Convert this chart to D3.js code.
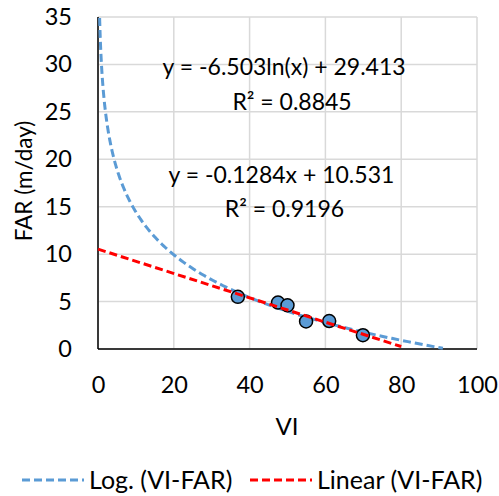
<!DOCTYPE html>
<html>
<head>
<meta charset="utf-8">
<script src="https://cdn.jsdelivr.net/npm/d3@7"></script>
<style>
  body { margin: 0; background: #fff; }
  text { font-family: "Lato", "Open Sans", sans-serif; fill: #000; }
</style>
</head>
<body>
<svg></svg>
<script>
// observed points (VI, FAR)
var viValues = [36.9, 47.5, 50.0, 54.9, 61.0, 69.9]
var farValues = [5.5, 4.9, 4.6, 2.9, 2.95, 1.45]

var xTicks = [0, 20, 40, 60, 80, 100]
var yTicks = [0, 5, 10, 15, 20, 25, 30, 35]

// trendline coefficients
var logCoef = { a: -6.503, b: 29.413 }
var linCoef = { m: -0.1284, c: 10.531 }
var logRange = [0.43, 91]
var linRange = [0, 80]

var eqLabels = [
    { text: "y = -6.503ln(x) + 29.413", x: 49.1, y: 28.9 },
    { text: "R² = 0.8845", x: 51.2, y: 25.2 },
    { text: "y = -0.1284x + 10.531", x: 48.4, y: 17.5 },
    { text: "R² = 0.9196", x: 49.2, y: 13.9 }
]

var legendItems = [
    { label: "Log. (VI-FAR)", color: "#5b9bd5" },
    { label: "Linear (VI-FAR)", color: "#ff0000" }
]

var screen = { width: 499, height: 496 }
var margins = { left: 98, right: 22, top: 17, bottom: 147 }
var graph = {
    width: screen.width - margins.left - margins.right,
    height: screen.height - margins.top - margins.bottom
}

var svg = d3.select("svg")
    .attr("width", screen.width)
    .attr("height", screen.height)

var xScale = d3.scaleLinear().domain([0, 100]).range([0, graph.width])
var yScale = d3.scaleLinear().domain([0, 35]).range([graph.height, 0])

var target = svg.append("g")
    .attr("transform", "translate(" + margins.left + "," + margins.top + ")")

// gridlines
target.append("g")
    .selectAll("line")
    .data(yTicks)
    .enter()
    .append("line")
    .attr("x1", 0)
    .attr("x2", graph.width)
    .attr("y1", function (d) { return yScale(d) })
    .attr("y2", function (d) { return yScale(d) })
    .attr("stroke", "#d9d9d9")
    .attr("stroke-width", 1.5)

target.append("g")
    .selectAll("line")
    .data(xTicks)
    .enter()
    .append("line")
    .attr("x1", function (d) { return xScale(d) })
    .attr("x2", function (d) { return xScale(d) })
    .attr("y1", 0)
    .attr("y2", graph.height)
    .attr("stroke", "#d9d9d9")
    .attr("stroke-width", 1.5)

// axes
var xAxis = d3.axisBottom(xScale).tickValues(xTicks).tickSize(0).tickPadding(27)
var yAxis = d3.axisLeft(yScale).tickValues(yTicks).tickSize(0).tickPadding(26)

var gx = target.append("g")
    .attr("transform", "translate(0," + graph.height + ")")
    .call(xAxis)
var gy = target.append("g").call(yAxis)

gx.select(".domain").remove()
gy.select(".domain").remove()
gx.selectAll("text").style("font-size", "23.5px").style("font-family", "Lato").style("fill", "#000")
gy.selectAll("text").style("font-size", "23.5px").style("font-family", "Lato").style("fill", "#000")

target.append("line")
    .attr("x1", 0).attr("x2", graph.width)
    .attr("y1", graph.height).attr("y2", graph.height)
    .attr("stroke", "#000").attr("stroke-width", 1.5)
target.append("line")
    .attr("x1", 0).attr("x2", 0)
    .attr("y1", 0).attr("y2", graph.height)
    .attr("stroke", "#000").attr("stroke-width", 1.5)

// trendlines
var logLine = d3.line()
    .x(function (v) { return xScale(v) })
    .y(function (v) { return yScale(logCoef.a * Math.log(v) + logCoef.b) })

var linLine = d3.line()
    .x(function (v) { return xScale(v) })
    .y(function (v) { return yScale(linCoef.m * v + linCoef.c) })

var logSamples = d3.range(0, 201).map(function (i) {
    var t = i / 200
    return Math.exp(Math.log(logRange[0]) + t * (Math.log(logRange[1]) - Math.log(logRange[0])))
})

target.append("path")
    .datum(logSamples)
    .attr("d", logLine)
    .attr("fill", "none")
    .attr("stroke", legendItems[0].color)
    .attr("stroke-width", 3)
    .attr("stroke-dasharray", "8,4")

// points
var points = viValues.map(function (v, i) { return { vi: v, far: farValues[i] } })

target.selectAll("circle")
    .data(points)
    .enter()
    .append("circle")
    .attr("cx", function (p) { return xScale(p.vi) })
    .attr("cy", function (p) { return yScale(p.far) })
    .attr("r", 6.5)
    .attr("fill", "#5b9bd5")
    .attr("stroke", "#000")
    .attr("stroke-width", 1.5)

target.append("path")
    .datum(linRange)
    .attr("d", linLine)
    .attr("fill", "none")
    .attr("stroke", legendItems[1].color)
    .attr("stroke-width", 3)
    .attr("stroke-dasharray", "8,4")

// equation labels
target.selectAll("text.eq")
    .data(eqLabels)
    .enter()
    .append("text")
    .classed("eq", true)
    .text(function (d) { return d.text })
    .attr("x", function (d) { return xScale(d.x) })
    .attr("y", function (d) { return yScale(d.y) })
    .attr("text-anchor", "middle")
    .style("font-size", "23px")

// axis titles
svg.append("text")
    .text("VI")
    .attr("text-anchor", "middle")
    .attr("x", 287)
    .attr("y", 435)
    .style("font-size", "24px")

svg.append("g")
    .attr("transform", "translate(32,181)")
    .append("text")
    .text("FAR (m/day)")
    .attr("text-anchor", "middle")
    .attr("transform", "rotate(-90)")
    .style("font-size", "22.5px")

// legend
var legendPos = [22, 250]
var legend = svg.append("g")
    .selectAll("g")
    .data(legendItems)
    .enter()
    .append("g")
    .attr("transform", function (d, i) { return "translate(" + legendPos[i] + ",480)" })

legend.append("line")
    .attr("x1", 0).attr("x2", 62)
    .attr("y1", 0).attr("y2", 0)
    .attr("stroke", function (d) { return d.color })
    .attr("stroke-width", 3)
    .attr("stroke-dasharray", "8,4")

legend.append("text")
    .text(function (d) { return d.label })
    .attr("x", 67)
    .attr("y", 9)
    .style("font-size", "25px")
</script>
</body>
</html>
